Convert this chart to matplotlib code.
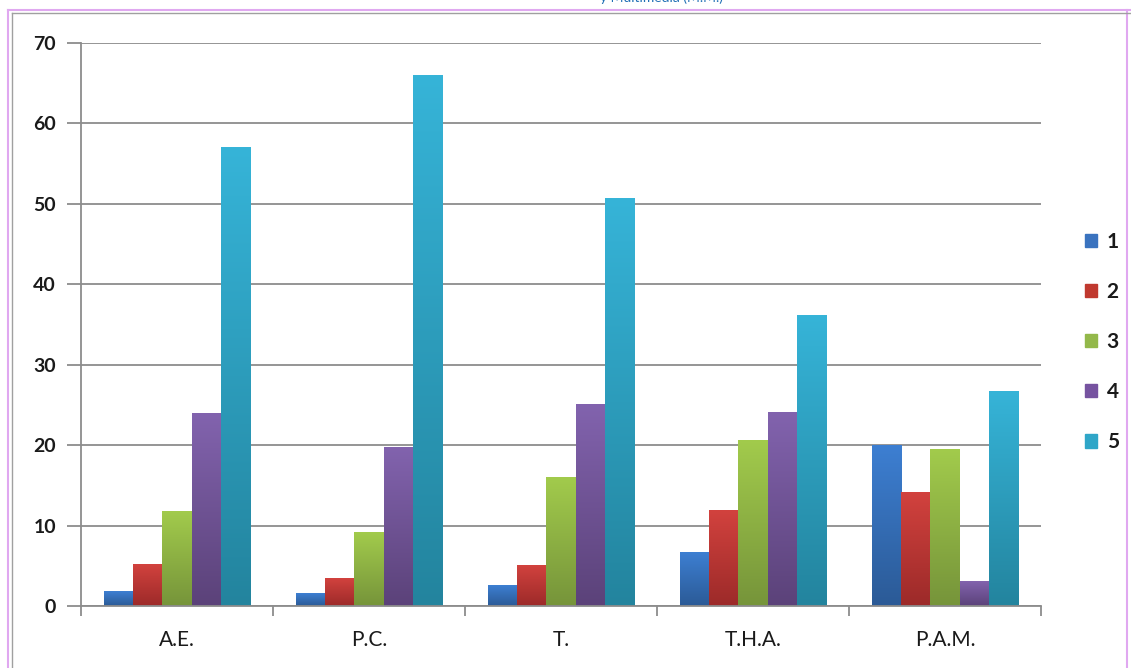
import matplotlib.pyplot as plt
import numpy as np
from matplotlib.colors import LinearSegmentedColormap
from matplotlib.lines import Line2D
from matplotlib.patches import Patch

categories = ["A.E.", "P.C.", "T.", "T.H.A.", "P.A.M."]
series_names = ["1", "2", "3", "4", "5"]
s1 = [1.8, 1.5, 2.5, 6.7, 20.0]
s2 = [5.1, 3.4, 5.0, 11.9, 14.1]
s3 = [11.7, 9.1, 16.0, 20.6, 19.5]
s4 = [23.9, 19.7, 25.1, 24.0, 3.0]
s5 = [57.0, 66.0, 50.7, 36.1, 26.7]
series = [s1, s2, s3, s4, s5]

# (top, bottom, legend) colours for each series
palette = [
    ("#3d7fd2", "#2b5a96", "#3a73bf"),
    ("#d2423e", "#9c2a29", "#c0392f"),
    ("#a2cb4c", "#76943a", "#93b84a"),
    ("#8263ae", "#5b4279", "#7653a0"),
    ("#36b4d8", "#23849e", "#2fa6c8"),
]


def main() -> None:
    plt.rcParams["font.family"] = ["Lato", "DejaVu Sans"]
    fig = plt.figure(figsize=(11.31, 6.68), dpi=100)
    ax = fig.add_axes([81 / 1131, 1 - 606 / 668, 960 / 1131, 563 / 668])

    n = len(series)
    width = 0.153
    x = np.arange(len(categories))
    grad = np.linspace(1, 0, 256).reshape(-1, 1)

    for i, (vals, (top, bot, _)) in enumerate(zip(series, palette)):
        cmap = LinearSegmentedColormap.from_list(f"s{i}", [bot, top])
        offs = (i - (n - 1) / 2) * width
        for xi, v in zip(x, vals):
            x0 = xi + offs - width / 2
            ax.imshow(grad, cmap=cmap, aspect="auto", extent=[x0, x0 + width, 0, v],
                      origin="upper", zorder=2, interpolation="bilinear")

    ax.set_xlim(-0.5, len(categories) - 0.5)
    ax.set_ylim(0, 70)
    ax.set_yticks(range(0, 71, 10))
    ax.set_yticklabels([str(t) for t in range(0, 71, 10)], fontsize=14,
                       fontweight="bold", color="#1a1a1a")
    ax.yaxis.grid(True, color="#8c8c8c", lw=1.3, zorder=0)
    ax.tick_params(axis="y", length=10, color="#8c8c8c", width=1.3, pad=8)

    ax.set_xticks(np.arange(len(categories) + 1) - 0.5)
    ax.set_xticklabels([])
    ax.set_xticks(x, minor=True)
    ax.set_xticklabels(categories, minor=True, fontsize=15, color="#1a1a1a")
    ax.tick_params(axis="x", which="major", length=7, color="#8c8c8c", width=1.3)
    ax.tick_params(axis="x", which="minor", length=0, pad=17)

    for side in ("top", "right"):
        ax.spines[side].set_visible(False)
    for side in ("left", "bottom"):
        ax.spines[side].set_color("#8c8c8c")
        ax.spines[side].set_linewidth(1.3)

    handles = [Patch(facecolor=c[2], edgecolor=c[2]) for c in palette]
    leg = fig.legend(handles, series_names, loc="center left",
                     bbox_to_anchor=(1066 / 1131, 1 - 342 / 668), frameon=False,
                     fontsize=15, handlelength=0.6, handleheight=0.6,
                     handletextpad=0.45, labelspacing=1.45)
    for t in leg.get_texts():
        t.set_fontweight("bold")
        t.set_color("#1a1a1a")

    # outer frame lines and the clipped heading above the plot
    fig.add_artist(Line2D([8 / 1131, 1], [1 - 10 / 668] * 2, color="#e0a8f0", lw=1.5))
    fig.add_artist(Line2D([8 / 1131] * 2, [0, 1 - 10 / 668], color="#e0a8f0", lw=1.5))
    fig.add_artist(Line2D([1127 / 1131] * 2, [0, 1 - 10 / 668], color="#e0a8f0", lw=1.5))
    fig.add_artist(Line2D([12 / 1131, 1], [1 - 13 / 668] * 2, color="#a0a0a0", lw=1))
    fig.add_artist(Line2D([12 / 1131] * 2, [0, 1 - 13 / 668], color="#a0a0a0", lw=1))
    fig.text(662 / 1131, 1 + 2 / 668, "y Multimedia (M.M.)", ha="center", va="center",
             fontsize=10, color="#1f6fb5")

    fig.savefig("out.png", dpi=100)


if __name__ == "__main__":
    main()
